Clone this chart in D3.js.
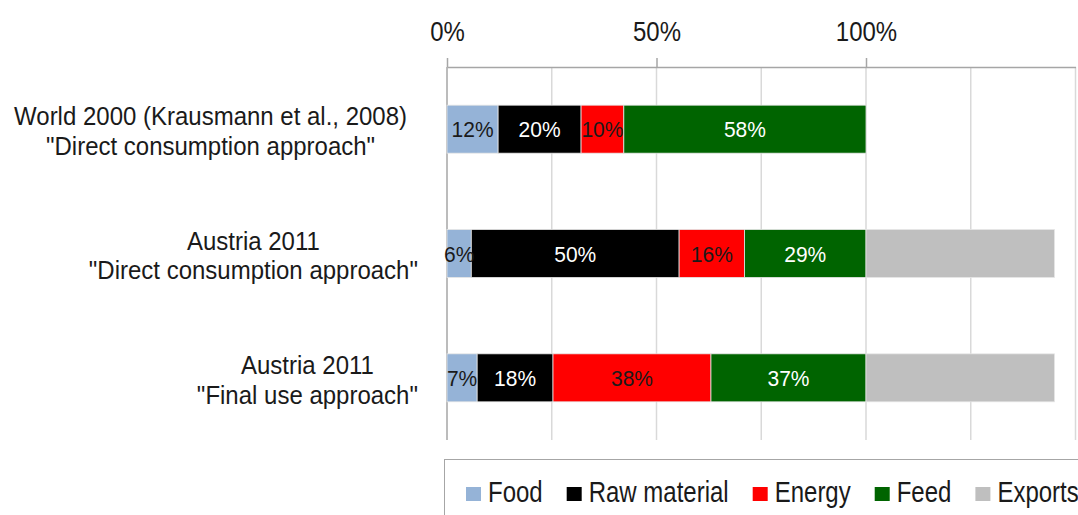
<!DOCTYPE html>
<html lang="en">
<head>
<meta charset="utf-8">
<title>Use of biomass</title>
<style>
  body { margin: 0; background: #fff; }
  text { font-family: "Liberation Sans", Arial, sans-serif; }
</style>
</head>
<body>
<div id="wrapper"></div>
<script src="https://cdn.jsdelivr.net/npm/d3@7"></script>
<script>
// data (share of total, %)
const categories = [
  ["World 2000 (Krausmann et al., 2008)", "\"Direct consumption approach\""],
  ["Austria 2011", "\"Direct consumption approach\""],
  ["Austria 2011", "\"Final use approach\""]
]
const seriesNames = ["Food", "Raw material", "Energy", "Feed", "Exports"]
const food = [12.2, 5.8, 7.2]
const rawMaterial = [19.8, 49.6, 18.1]
const energy = [10.2, 15.6, 37.7]
const feed = [57.8, 29.0, 37.0]
const exports = [0, 45, 45]
const tickValues = [0, 50, 100]
const gridValues = [25, 50, 75, 100, 125, 150]

const colors = ["#95b3d7", "#000000", "#ff0000", "#006400", "#bfbfbf"]
const labelColors = ["#1a1a1a", "#ffffff", "#1a1a1a", "#ffffff", null]

const width = 1078
const height = 515
const margin = {top: 67, left: 447, bottom: 75}
const stretch = 1.25     // legend text is drawn taller than plain Arial
const catStretch = 1.08  // category labels, kept tighter so the two lines don't collide

const rows = categories.map((c, i) => ({
  key: i,
  Food: food[i],
  "Raw material": rawMaterial[i],
  Energy: energy[i],
  Feed: feed[i],
  Exports: exports[i]
}))

const svg = d3.select("#wrapper").append("svg")
  .attr("width", width)
  .attr("height", height)

const x = d3.scaleLinear()
  .domain([0, 150])
  .range([margin.left, 1075.5])

const y = d3.scaleBand()
  .domain(rows.map(d => d.key))
  .range([margin.top, height - margin.bottom])
  .paddingInner(0.614)
  .paddingOuter(0.307)

// gridlines
svg.append("g")
  .selectAll("line")
  .data(gridValues)
  .join("line")
  .attr("x1", d => x(d)).attr("x2", d => x(d))
  .attr("y1", margin.top).attr("y2", height - margin.bottom)
  .attr("stroke", "#d9d9d9")
  .attr("stroke-width", 1.5)

// top axis
const axis = svg.append("g")
  .attr("transform", `translate(0,${margin.top})`)
  .call(d3.axisTop(x).tickValues(tickValues).tickFormat(d => d + "%").tickSize(9).tickSizeOuter(0))
axis.select(".domain").attr("stroke", "#a6a6a6").attr("stroke-width", 1.5)
axis.selectAll(".tick line").attr("stroke", "#a6a6a6").attr("stroke-width", 1.5)
axis.selectAll(".tick text")
  .attr("y", 0)
  .attr("dy", null)
  .attr("transform", "translate(0,-26) scale(1,1.12)")
  .attr("fill", "#1a1a1a")
  .style("font-size", "24px")
  .style("font-family", "'Liberation Sans', Arial, sans-serif")

// 0% line down through the plot
svg.append("line")
  .attr("x1", x(0)).attr("x2", x(0))
  .attr("y1", margin.top).attr("y2", height - margin.bottom)
  .attr("stroke", "#a6a6a6")
  .attr("stroke-width", 1.5)

// stacked bars
const stacked = d3.stack().keys(seriesNames)(rows)

const layers = svg.append("g")
  .selectAll("g")
  .data(stacked)
  .join("g")
  .attr("fill", (d, i) => colors[i])

layers.selectAll("rect")
  .data(d => d)
  .join("rect")
  .attr("x", d => x(d[0]))
  .attr("y", d => y(d.data.key))
  .attr("width", d => x(d[1]) - x(d[0]))
  .attr("height", y.bandwidth())
  .attr("stroke", "#e6e6e6")
  .attr("stroke-width", 0.8)

// value labels (no labels on exports)
stacked.forEach((layer, i) => {
  if (!labelColors[i]) return
  svg.append("g")
    .selectAll("text")
    .data(layer.filter(d => d[1] - d[0] > 0))
    .join("text")
    .attr("transform", d => `translate(${x((d[0] + d[1]) / 2)},${y(d.data.key) + y.bandwidth() / 2 + 8}) scale(1,1.05)`)
    .attr("text-anchor", "middle")
    .attr("fill", labelColors[i])
    .style("font-size", "21px")
    .text(d => Math.round(d[1] - d[0]) + "%")
})

// category labels: one text, two centred lines
categories.forEach((lines, i) => {
  const cy = y(i) + y.bandwidth() / 2
  const label = svg.append("text")
    .attr("text-anchor", "middle")
    .attr("fill", "#1a1a1a")
    .style("font-size", "24px")
  const spans = label.selectAll("tspan")
    .data(lines)
    .join("tspan")
    .attr("x", 0)
    .attr("dy", (d, j) => j === 0 ? 0 : 30 / catStretch)
    .text(d => d)
  const w = d3.max(spans.nodes(), n => n.getComputedTextLength())
  const cx = w > 385 ? 14 + w / 2 : 418 - w / 2
  label.attr("transform", `translate(${cx},${cy - 4}) scale(1,${catStretch})`)
})

// legend
const legend = svg.append("g")
legend.append("rect")
  .attr("x", 444.5).attr("y", 459.5)
  .attr("width", 700).attr("height", 100)
  .attr("fill", "none")
  .attr("stroke", "#a6a6a6")
  .attr("stroke-width", 1)

let lx = 466
seriesNames.forEach((name, i) => {
  legend.append("rect")
    .attr("x", lx).attr("y", 487)
    .attr("width", 15).attr("height", 14)
    .attr("fill", colors[i])
  const t = legend.append("text")
    .attr("transform", `translate(${lx + 22},502) scale(1,${stretch})`)
    .attr("fill", "#1a1a1a")
    .style("font-size", "24px")
    .text(name)
  lx += 22 + t.node().getComputedTextLength() + 24
})
</script>
</body>
</html>
